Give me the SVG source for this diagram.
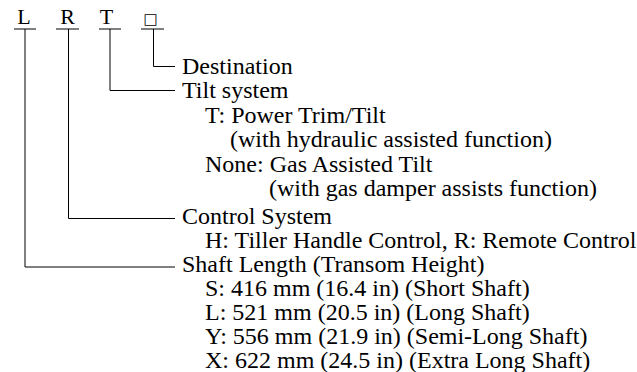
<svg xmlns="http://www.w3.org/2000/svg" width="637" height="372" viewBox="0 0 637 372">
<style>
text{font-family:"Liberation Serif","Times New Roman",serif;font-size:24px;fill:#000}
.c{text-anchor:middle;font-size:22px}
.ln{stroke:#000;stroke-width:1;fill:none}
</style>
<rect width="637" height="372" fill="#fff"/>
<g id="code">
<text class="c" x="24" y="24">L</text>
<text class="c" x="67.5" y="24">R</text>
<text class="c" x="106.5" y="24">T</text>
<text class="c" x="150.5" y="24" style="font-family:'DejaVu Sans',sans-serif;font-size:15px">□</text>
</g>
<g id="connectors">
<path class="ln" d="M14 29H36M56 29H79M99 29H121M141 29H164"/>
<path class="ln" d="M153.5 29V66.5H175"/>
<path class="ln" d="M110 29V90.5H175"/>
<path class="ln" d="M68.5 29V218.5H175"/>
<path class="ln" d="M25 29V267H175"/>
</g>
<g id="destination">
<text x="182" y="74">Destination</text>
</g>
<g id="tilt">
<text x="182" y="98">Tilt system</text>
<text x="205" y="123">T: Power Trim/Tilt</text>
<text x="230" y="147">(with hydraulic assisted function)</text>
<text x="205" y="172">None: Gas Assisted Tilt</text>
<text x="269" y="196">(with gas damper assists function)</text>
</g>
<g id="control">
<text x="182" y="224">Control System</text>
<text x="205" y="248">H: Tiller Handle Control, R: Remote Control</text>
</g>
<g id="shaft">
<text x="182" y="272">Shaft Length (Transom Height)</text>
<text x="205" y="296">S: 416 mm (16.4 in) (Short Shaft)</text>
<text x="205" y="320">L: 521 mm (20.5 in) (Long Shaft)</text>
<text x="205" y="344">Y: 556 mm (21.9 in) (Semi-Long Shaft)</text>
<text x="205" y="368">X: 622 mm (24.5 in) (Extra Long Shaft)</text>
</g>
</svg>
